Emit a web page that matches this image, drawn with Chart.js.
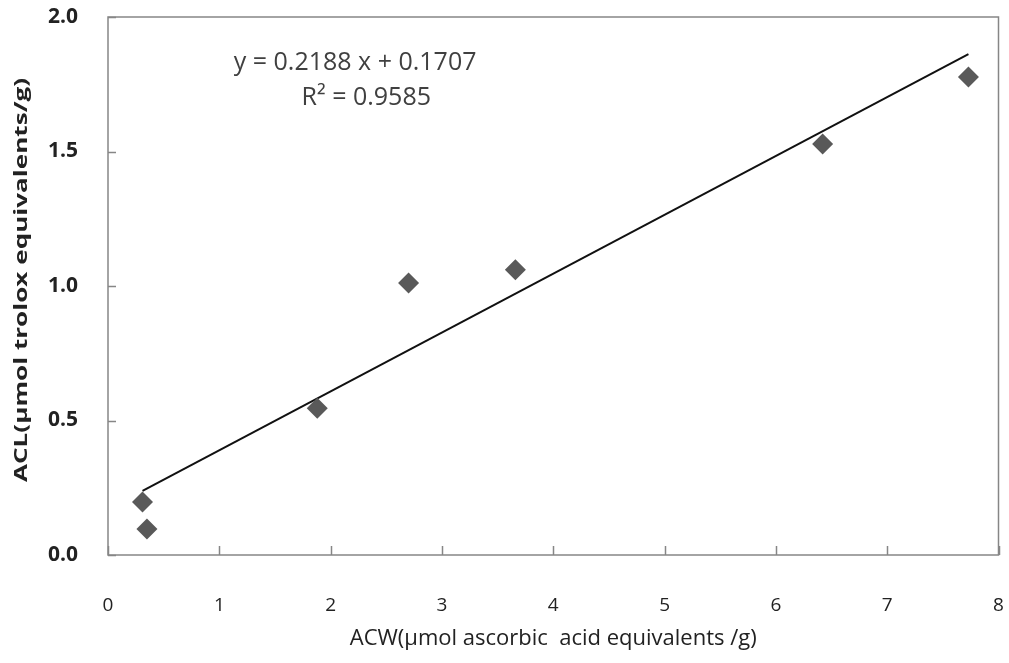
<!DOCTYPE html>
<html>
<head>
<meta charset="UTF-8">
<title>ACW vs ACL</title>
<script src="https://cdn.jsdelivr.net/npm/chart.js@4.4.1/dist/chart.umd.min.js"></script>
<style>
  html, body { margin: 0; padding: 0; background: #fff; }
  #wrap { width: 1009px; height: 663px; }
</style>
</head>
<body>
<div id="wrap"><canvas id="c"></canvas></div>
<script>
// values
const acw = [0.31, 0.35, 1.88, 2.70, 3.66, 6.42, 7.73];
const acl = [0.197, 0.097, 0.546, 1.011, 1.060, 1.528, 1.777];
// trendline end points (y = 0.2188x + 0.1707 over the data range)
const trendX = [0.31, 7.73];
const trendY = [0.238, 1.862];
const xTicks = [0, 1, 2, 3, 4, 5, 6, 7, 8];
const yTicks = [0.0, 0.5, 1.0, 1.5, 2.0];
const eqLines = ['y = 0.2188 x + 0.1707', 'R² = 0.9585'];
const xTitle = 'ACW(μmol ascorbic  acid equivalents /g)';
const yTitle = 'ACL(μmol trolox equivalents/g)';

const fontFam = '"Open Sans", "Noto Sans", sans-serif';

const pts = acw.map((x, i) => ({ x: x, y: acl[i] }));
const trend = trendX.map((x, i) => ({ x: x, y: trendY[i] }));

// box, inward ticks, titles, equation
const extras = {
  id: 'extras',
  afterDraw(chart) {
    const ctx = chart.ctx;
    const a = chart.chartArea;
    const xs = chart.scales.x, ys = chart.scales.y;
    ctx.save();
    ctx.strokeStyle = '#868686';
    ctx.lineWidth = 1.5;
    ctx.strokeRect(a.left, a.top, a.right - a.left, a.bottom - a.top);
    ctx.beginPath();
    xTicks.forEach(v => {
      const px = Math.round(xs.getPixelForValue(v)) + 0.5;
      ctx.moveTo(px, a.bottom);
      ctx.lineTo(px, a.bottom - 9);
    });
    yTicks.forEach(v => {
      const py = Math.round(ys.getPixelForValue(v)) + 0.5;
      ctx.moveTo(a.left, py);
      ctx.lineTo(a.left + 8, py);
    });
    ctx.stroke();

    // equation
    ctx.fillStyle = '#404040';
    ctx.font = '25px ' + fontFam;
    ctx.textAlign = 'center';
    ctx.textBaseline = 'middle';
    ctx.fillText(eqLines[0], xs.getPixelForValue(2.22), ys.getPixelForValue(1.829));
    ctx.fillText(eqLines[1], xs.getPixelForValue(2.32), ys.getPixelForValue(1.70));

    // x title
    ctx.fillStyle = '#222';
    ctx.font = '22px ' + fontFam;
    ctx.fillText(xTitle, (a.left + a.right) / 2, 639);

    // y title (stretched along its length like the original)
    ctx.font = 'bold 17px ' + fontFam;
    const w = ctx.measureText(yTitle).width;
    ctx.translate(22, 280);
    ctx.rotate(-Math.PI / 2);
    ctx.scale(404 / w, 1);
    ctx.fillText(yTitle, 0, 0);
    ctx.restore();
  }
};

new Chart(document.getElementById('c'), {
  type: 'scatter',
  data: {
    datasets: [
      {
        label: 'data',
        data: pts,
        pointStyle: 'rectRot',
        pointRadius: 10.5,
        pointHoverRadius: 10.5,
        backgroundColor: '#595959',
        borderColor: '#595959',
        borderWidth: 0
      },
      {
        label: 'trend',
        type: 'line',
        data: trend,
        borderColor: '#111',
        borderWidth: 2,
        pointRadius: 0,
        fill: false
      }
    ]
  },
  options: {
    responsive: true,
    maintainAspectRatio: false,
    animation: false,
    layout: { padding: { top: 17, right: 8, left: 0, bottom: 0 } },
    plugins: { legend: { display: false }, tooltip: { enabled: false } },
    scales: {
      x: {
        type: 'linear',
        min: 0, max: 8,
        border: { display: false },
        grid: { display: false, drawTicks: false },
        ticks: {
          stepSize: 1,
          padding: 39,
          color: '#222',
          font: { family: fontFam, size: 19 },
          callback: v => String(v)
        },
        afterFit: s => {
          s.height = 108;
          s.paddingLeft = 0; s.paddingRight = 0; s.paddingTop = 0; s.paddingBottom = 0;
        }
      },
      y: {
        type: 'linear',
        min: 0, max: 2,
        border: { display: false },
        grid: { display: false, drawTicks: false },
        ticks: {
          stepSize: 0.5,
          padding: 30,
          color: '#222',
          font: { family: fontFam, size: 21, weight: 'bold' },
          callback: v => v.toFixed(1)
        },
        afterFit: s => {
          s.width = 108;
          s.paddingLeft = 0; s.paddingRight = 0; s.paddingTop = 0; s.paddingBottom = 0;
        }
      }
    }
  },
  plugins: [extras]
});
</script>
</body>
</html>
